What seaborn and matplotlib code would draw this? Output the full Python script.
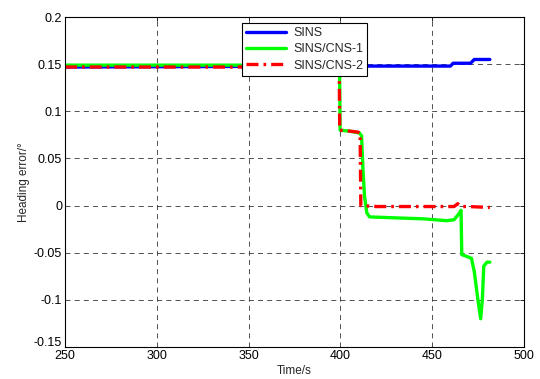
import matplotlib
matplotlib.use("Agg")
import matplotlib.pyplot as plt
import matplotlib.transforms as mtransforms
import seaborn as sns

# SINS (blue)
sins_t = [250, 400, 460, 461.5, 471, 473, 481.5]
sins_y = [0.147, 0.148, 0.148, 0.151, 0.151, 0.155, 0.155]

# SINS/CNS-1 (green)
cns1_t = [250, 399.6, 399.9, 405, 410.5, 411.6, 412.3, 413.2, 414.5, 416, 430,
          445, 458, 462, 464.5, 465.8, 466.2, 469, 471.5, 473, 475, 476.5,
          477.4, 478.2, 480, 481.5]
cns1_y = [0.149, 0.149, 0.08, 0.079, 0.077, 0.074, 0.04, 0.01, -0.008, -0.012,
          -0.013, -0.014, -0.016, -0.015, -0.009, -0.005, -0.052, -0.054,
          -0.056, -0.07, -0.1, -0.12, -0.1, -0.064, -0.06, -0.06]

# SINS/CNS-2 (red)
cns2_t = [250, 399.4, 399.7, 405, 409.5, 410.8, 411.2, 420, 462, 464, 466, 470, 481.5]
cns2_y = [0.147, 0.147, 0.08, 0.079, 0.078, 0.077, 0.0, -0.001, -0.001, 0.002,
          -0.001, -0.001, -0.002]

x_ticks = [250, 300, 350, 400, 450, 500]
y_ticks = [-0.15, -0.1, -0.05, 0, 0.05, 0.1, 0.15, 0.2]
y_tick_labels = ["-0.15", "-0.1", "-0.05", "0", "0.05", "0.1", "0.15", "0.2"]

sns.set_style("white")
plt.rcParams["font.family"] = ["Liberation Sans", "DejaVu Sans"]
plt.rcParams["font.size"] = 9

fig = plt.figure(figsize=(5.4, 3.79), dpi=100)
ax = fig.add_axes([0.1204, 0.0844, 0.8496, 0.8706])

sns.lineplot(x=sins_t, y=sins_y, ax=ax, color=(0, 0, 1), linewidth=2.4,
             estimator=None, sort=False, label="SINS")
sns.lineplot(x=cns1_t, y=cns1_y, ax=ax, color=(0, 1, 0), linewidth=2.4,
             estimator=None, sort=False, label="SINS/CNS-1")
sns.lineplot(x=cns2_t, y=cns2_y, ax=ax, color=(1, 0, 0), linewidth=2.4,
             linestyle=(0, (3.6, 1.5, 0.8, 1.5)), estimator=None, sort=False,
             label="SINS/CNS-2")

ax.set_xlim(250, 500)
ax.set_ylim(-0.15, 0.2)
ax.set_xticks(x_ticks)
ax.set_xticklabels([str(v) for v in x_ticks])
ax.set_yticks(y_ticks)
ax.set_yticklabels(y_tick_labels)
ax.tick_params(direction="in", length=3, width=0.6, top=True, right=True,
               labelsize=9, pad=2, colors="black")
ax.grid(True, color="#333333", linestyle=(0, (6, 5)), linewidth=0.6)
for s in ax.spines.values():
    s.set_color("black")
    s.set_linewidth(0.8)

# MATLAB puts the lowest y label a little higher, just above the "250"
lbl = ax.get_yticklabels()[0]
lbl.set_transform(lbl.get_transform() + mtransforms.ScaledTranslation(0, 4 / 72, fig.dpi_scale_trans))

ax.set_xlabel("Time/s", fontsize=8.5, labelpad=2)
ax.set_ylabel("Heading error/°", fontsize=8.5, labelpad=3)

leg = ax.legend(loc="upper center", bbox_to_anchor=(0.522, 1.0), fontsize=9,
                frameon=True, fancybox=False, edgecolor="black",
                handlelength=3.2, borderpad=0.3, labelspacing=0.35,
                handletextpad=0.6)
leg.get_frame().set_linewidth(0.8)
leg.get_frame().set_alpha(1)

fig.savefig("out.png", dpi=100)
